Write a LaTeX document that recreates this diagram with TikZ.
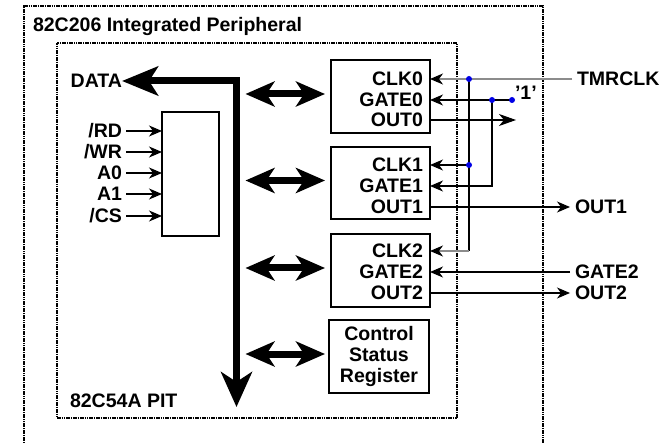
\documentclass[tikz,border=0pt]{standalone}
\usepackage{fontspec}
\setmainfont{Liberation Sans}
\usepackage{xcolor}
\usepackage{tikz}
\usetikzlibrary{arrows.meta, positioning, calc}
\definecolor{wiregray}{RGB}{140,140,140}
\definecolor{dotblue}{RGB}{0,0,230}

\begin{document}
\begin{tikzpicture}[
    x=1bp, y=-1bp,
    every node/.style={font=\fontsize{19.6}{21}\selectfont\bfseries, inner sep=0pt, outer sep=0pt},
    region/.style={draw=black, line width=1.6bp, dash pattern=on 1.6bp off 0.7bp},
    counter/.style={rectangle, draw=black, line width=1.2bp, minimum width=99bp, minimum height=73bp},
    csrbox/.style={counter, minimum width=100bp, align=center},
    decoder/.style={rectangle, draw=black, line width=1.2bp, minimum width=57bp, minimum height=124bp},
    pinlabel/.style={anchor=east, text height=14bp, text depth=0pt},
    extlabel/.style={anchor=west, inner xsep=5bp, text height=14bp, text depth=0pt},
    caption/.style={anchor=west, text height=14bp, text depth=0pt},
    plainwire/.style={line width=1.1bp},
    wire/.style={line width=1.1bp, -{Stealth[length=13bp, width=11bp, inset=4bp]}},
    graywire/.style={line width=1.1bp, draw=wiregray, -{Stealth[length=13bp, width=11bp, inset=4bp, color=black]}},
    bigwire/.style={line width=1.1bp, -{Stealth[length=17bp, width=12bp, inset=5bp]}},
    dbus/.style={line width=7bp, {Stealth[length=29bp, width=25bp, inset=8bp]}-{Stealth[length=29bp, width=25bp, inset=8bp]}},
    databus/.style={line width=7bp, line join=miter, {Stealth[length=36bp, width=29bp, inset=9bp]}-{Stealth[length=35bp, width=31bp, inset=10bp]}},
    junction/.style={circle, fill=dotblue, minimum size=6bp}
]
\useasboundingbox (0,0) rectangle (669,443);

% chip outlines
\draw[region] (24,450) |- (543,6) -- (543,450);
\node[region, minimum width=400bp, minimum height=375bp] (pit) at (257,230.5) {};
\node[caption] (title) at (33,25) {82C206 Integrated Peripheral};
\node[caption] (pitlabel) at (70,400) {82C54A PIT};

% counters and registers
\node[counter] (ctr0) at (380.5,96.5) {};
\node[counter, minimum height=72bp] (ctr1) at (380.5,183) {};
\node[counter] (ctr2) at (380.5,270.5) {};
\node[csrbox] (csr) at (379,356.5) {Control\\Status\\Register};
\node[decoder] (dec) at (190.5,174) {};

\node[pinlabel] (lclk0) at (423,79) {CLK0};
\node[pinlabel] (lgate0) at (423,100) {GATE0};
\node[pinlabel] (lout0) at (423,120) {OUT0};
\node[pinlabel] (lclk1) at (423,165) {CLK1};
\node[pinlabel] (lgate1) at (423,186) {GATE1};
\node[pinlabel] (lout1) at (423,207) {OUT1};
\node[pinlabel] (lclk2) at (423,251) {CLK2};
\node[pinlabel] (lgate2) at (423,272) {GATE2};
\node[pinlabel] (lout2) at (423,293) {OUT2};

% data bus
\node[pinlabel] (data) at (122,81) {DATA};
\coordinate (busc) at (236.5,81);
\coordinate (busend) at (236.5,407);
\draw[databus] (data.east) -- (busc) -- (busend);
\draw[dbus] ($(busc |- ctr0.west)+(9,-2.5)$) -- ($(ctr0.west)+(-6,-2.5)$);
\draw[dbus] ($(busc |- ctr1.west)+(9,-2.5)$) -- ($(ctr1.west)+(-6,-2.5)$);
\draw[dbus] ($(busc |- ctr2.west)+(9,-2.5)$) -- ($(ctr2.west)+(-6,-2.5)$);
\draw[dbus] ($(busc |- csr.west)+(9,-2.5)$) -- ($(csr.west)+(-4,-2.5)$);

% decoder inputs
\node[pinlabel] (lrd) at (122,131) {/RD};
\node[pinlabel] (lwr) at (122,152) {/WR};
\node[pinlabel] (la0) at (122,173) {A0};
\node[pinlabel] (la1) at (122,194) {A1};
\node[pinlabel] (lcs) at (122,216) {/CS};
\draw[wire, shorten <=4bp] (lrd.east) -- (lrd.east -| dec.west);
\draw[wire, shorten <=4bp] (lwr.east) -- (lwr.east -| dec.west);
\draw[wire, shorten <=4bp] (la0.east) -- (la0.east -| dec.west);
\draw[wire, shorten <=4bp] (la1.east) -- (la1.east -| dec.west);
\draw[wire, shorten <=4bp] (lcs.east) -- (lcs.east -| dec.west);

% clock and gate wiring
\coordinate (jclk0) at (469,79);
\coordinate (jclk1) at (469,165);
\coordinate (bclk) at (469,251);
\coordinate (jgate) at (492,100);
\coordinate (one) at (512,100);
\coordinate (out0end) at (516,120);
\node[extlabel] (tmrclk) at (572,79) {TMRCLK};
\node[extlabel] (out1) at (570,207) {OUT1};
\node[extlabel] (gate2) at (570,272) {GATE2};
\node[extlabel] (out2) at (570,293) {OUT2};
\node[caption] (onetext) at (515,93) {'1'};

\draw[graywire] (tmrclk.west) -- (lclk0 -| ctr0.east);
\draw[plainwire] (jclk0) -- (bclk);
\draw[wire] (jclk1) -- (lclk1 -| ctr1.east);
\draw[graywire] (bclk) -- (lclk2 -| ctr2.east);
\draw[wire] (one) -- (lgate0 -| ctr0.east);
\draw[wire] (jgate) |- (lgate1 -| ctr1.east);
\draw[bigwire] (lout0 -| ctr0.east) -- (out0end);
\draw[wire] (lout1 -| ctr1.east) -- (out1.west);
\draw[wire] (gate2.west) -- (lgate2 -| ctr2.east);
\draw[wire] (lout2 -| ctr2.east) -- (out2.west);

\node[junction] (dclk0) at (jclk0) {};
\node[junction] (dclk1) at (jclk1) {};
\node[junction] (dgate) at (jgate) {};
\node[junction] (done) at (one) {};
\end{tikzpicture}
\end{document}
